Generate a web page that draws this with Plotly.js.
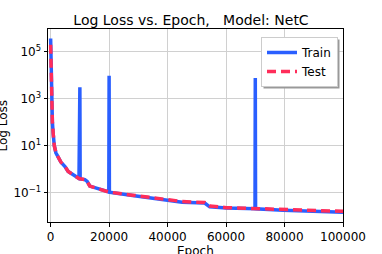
<!DOCTYPE html>
<html><head><meta charset="utf-8">
<script src="https://cdn.plot.ly/plotly-3.0.1.min.js"></script>
<style>body{margin:0;background:#fff}#c{width:382px;height:254px}</style>
</head><body><div id="c"></div>
<script>
const trainEpochs = [0,100,200,350,600,900,1250,1800,2600,3500,4900,6000,8000,9700,10000,10100,11700,12500,13400,16900,19900,20000,20100,28000,39600,45000,52700,54400,60100,69900,70000,70100,79500,100000];
const trainLoss = [370000,30000,3000,800,100,30,10,5,3.4,2,1.3,0.8,0.55,0.4,3100,0.38,0.36,0.3,0.19,0.14,0.108,9500,0.105,0.076,0.051,0.039,0.036,0.025,0.022,0.0205,7700,0.0205,0.0178,0.0148];
const testEpochs = [0,100,200,350,600,900,1250,1800,2600,3500,4900,6000,8000,9700,11700,12500,13400,16900,20000,28000,39600,45000,52700,54400,60100,70000,79500,100000];
const testLoss = [200000,30000,3000,800,100,30,10,5,3.4,2,1.3,0.8,0.55,0.4,0.36,0.3,0.19,0.14,0.105,0.078,0.053,0.042,0.038,0.027,0.023,0.021,0.0185,0.016];
const yTickVals = [0.1,10,1000,100000];
const yTickText = ["10<sup>\u22121</sup>","10<sup>1</sup>","10<sup>3</sup>","10<sup>5</sup>"];
const xTickVals = [0,20000,40000,60000,80000,100000];
const xTickText = ["0","20000","40000","60000","80000","100000"];

const L=48,R=343,T=29,B=222,W=R-L,H=B-T;
function px(x){return (x-L)/W;}
function py(y){return (B-y)/H;}

const traces = [
 {x:trainEpochs,y:trainLoss,type:'scatter',mode:'lines',name:'Train',line:{color:'#2a5fff',width:3.5}},
 {x:testEpochs,y:testLoss,type:'scatter',mode:'lines',name:'Test',line:{color:'#ff2d5a',width:3.5,dash:'9px,5px'}}
];
const font={family:'DejaVu Sans',size:12,color:'#000'};
const layout = {
 width:382,height:254,margin:{l:L,r:382-R,t:T,b:254-B},
 paper_bgcolor:'#fff',plot_bgcolor:'#fff',font:font,showlegend:true,
 title:{text:'Log Loss vs. Epoch,\u00a0\u00a0 Model: NetC',font:{family:'DejaVu Sans',size:14,color:'#000'},x:0.5,xanchor:'center',y:1-20/254,yanchor:'middle'},
 xaxis:{range:[-900,100000],tickvals:xTickVals,ticktext:xTickText,showgrid:true,gridcolor:'#d0d0d0',gridwidth:1,zeroline:false,
   showline:true,linecolor:'#000',linewidth:1,mirror:true,ticks:'outside',ticklen:3.5,tickcolor:'#000',tickfont:font},
 yaxis:{type:'log',range:[-2.25,5.97],tickvals:yTickVals,ticktext:yTickText,showgrid:true,gridcolor:'#d0d0d0',gridwidth:1,zeroline:false,
   showline:true,linecolor:'#000',linewidth:1,mirror:true,ticks:'outside',ticklen:3.5,tickcolor:'#000',tickfont:font},
 legend:{x:px(338),xanchor:'right',y:py(37),yanchor:'top',bgcolor:'#fff',bordercolor:'#cccccc',borderwidth:1,font:font,tracegroupgap:0,itemwidth:30},
 annotations:[
  {text:'Log Loss',xref:'paper',yref:'paper',x:0,y:0.5,xanchor:'center',yanchor:'middle',textangle:-90,xshift:-(L-2),showarrow:false,font:font},
  {text:'Epoch',xref:'paper',yref:'paper',x:0.5,y:0,xanchor:'center',yanchor:'top',yshift:-20,showarrow:false,font:font}
 ]
};
Plotly.newPlot('c',traces,layout,{displayModeBar:false,staticPlot:true}).then(function(gd){
  const bg = gd.querySelector('.legend .bg');
  if(!bg) return;
  const r = bg.getBoundingClientRect();
  const c = gd.getBoundingClientRect();
  const x0=r.left-c.left+2, x1=r.right-c.left+2, y0=r.top-c.top+2, y1=r.bottom-c.top+2;
  return Plotly.relayout(gd,{shapes:[{type:'rect',xref:'paper',yref:'paper',x0:px(x0),x1:px(x1),y0:py(y1),y1:py(y0),fillcolor:'#999',line:{width:0},layer:'above'}]});
});
</script></body></html>
